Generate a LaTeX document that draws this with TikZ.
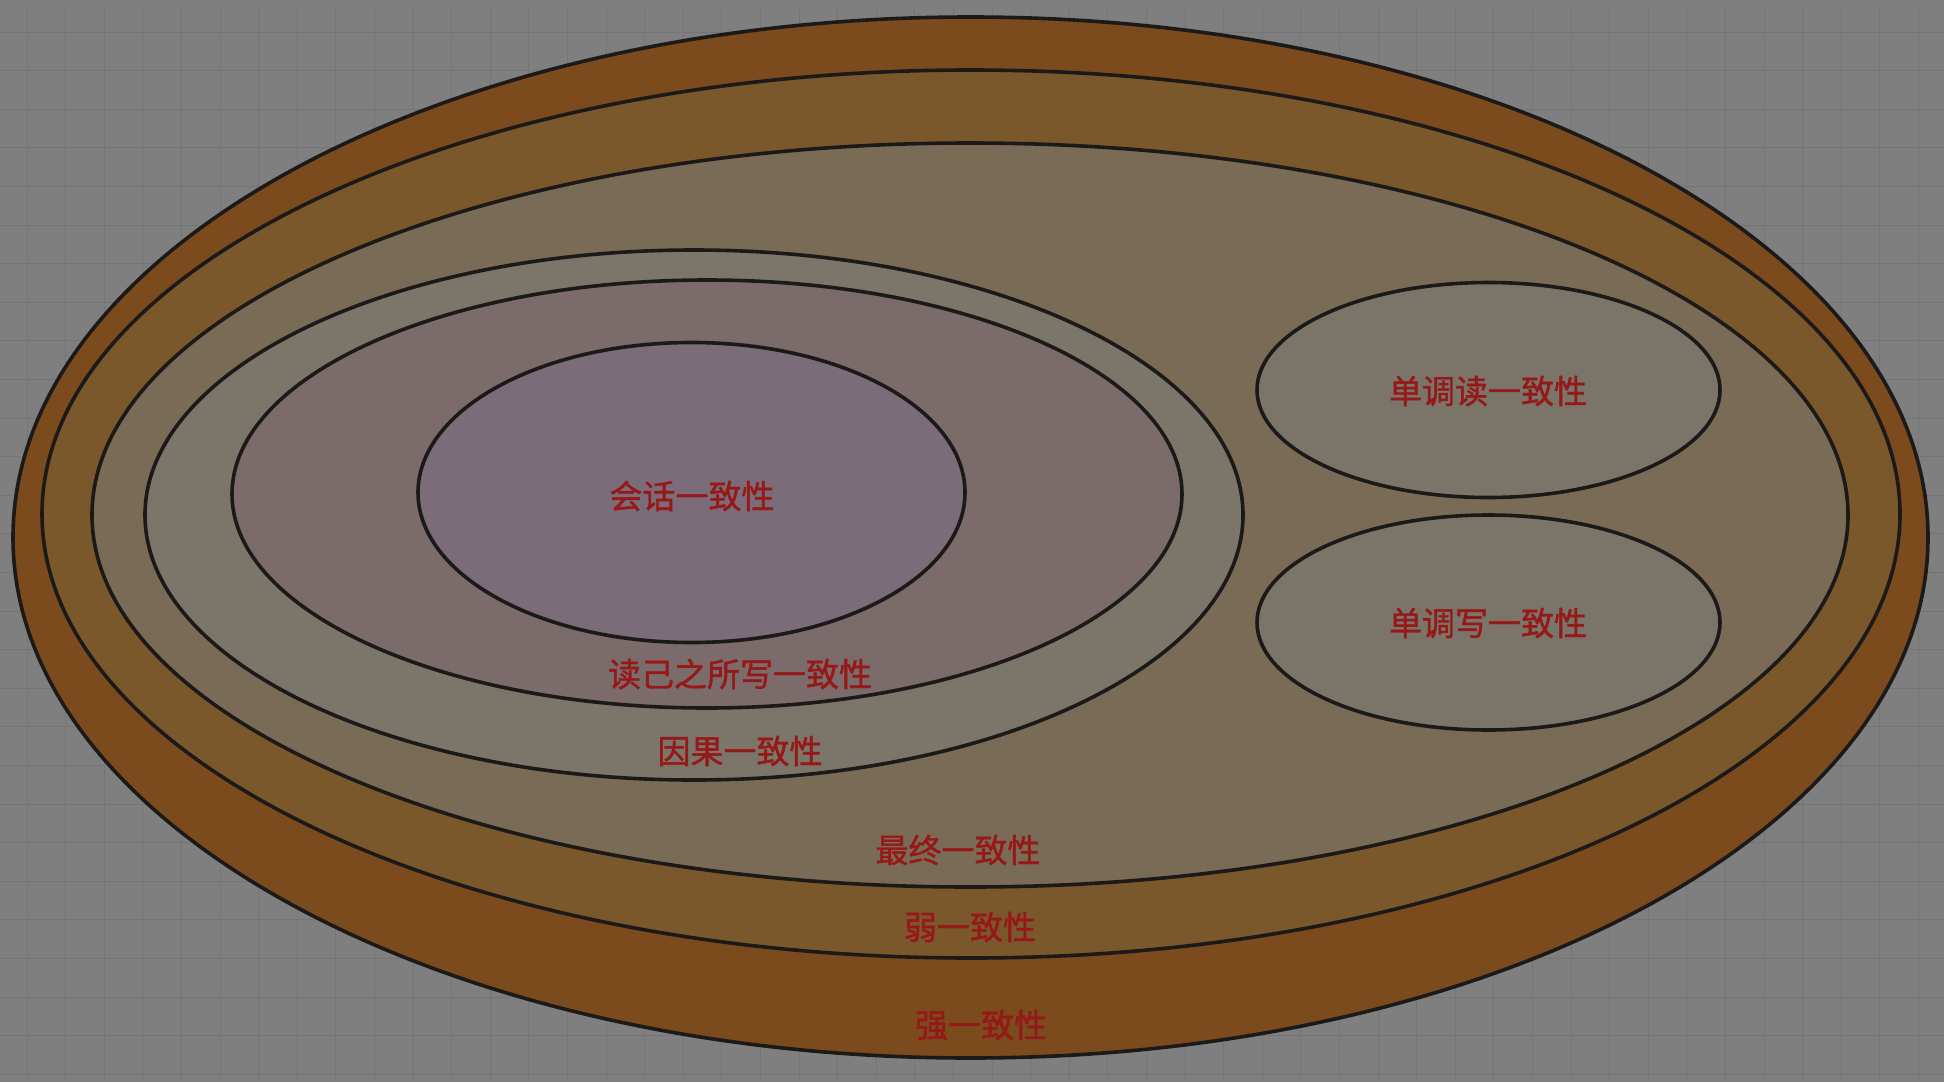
\documentclass[tikz,border=0pt]{standalone}
\usepackage{fontspec}
\newfontfamily\cjk[FakeBold=1.2]{Noto Sans CJK SC}

\tikzset{every picture/.style={line width=0.75pt}}

\begin{document}
\begin{tikzpicture}[x=0.5pt,y=0.5pt,yscale=-1,xscale=1,
  ring/.style={draw={rgb, 255:red, 28; green, 26; blue, 24 }, line width=1.8pt},
  lbl/.style={text={rgb, 255:red, 150; green, 24; blue, 24 }, font=\cjk\fontsize{16.5}{20}\selectfont, inner sep=0pt}]
	%set diagram left start at 0, and has height of 1082
	\path [fill={rgb, 255:red, 127; green, 127; blue, 127 }] (0,0) rectangle (1944,1082);
	\useasboundingbox (0,0) rectangle (1944,1082);

	%Grid lines
	\foreach \gx in {0,...,49} {
		\draw [color={rgb, 255:red, 117; green, 117; blue, 117 }, line width=0.5pt] (27+38.6*\gx,8) -- (27+38.6*\gx,1082) ;
	}
	\foreach \gy in {0,...,27} {
		\draw [color={rgb, 255:red, 117; green, 117; blue, 117 }, line width=0.5pt] (0,32+38.6*\gy) -- (1944,32+38.6*\gy) ;
	}

	%Shape: Ellipse (strong)
	\draw [ring, fill={rgb, 255:red, 123; green, 75; blue, 29 }] (970.5,537.5) ellipse (957.5 and 520.5) ;
	%Shape: Ellipse (weak)
	\draw [ring, fill={rgb, 255:red, 123; green, 88; blue, 44 }] (971,514) ellipse (929 and 444) ;
	%Shape: Ellipse (eventual)
	\draw [ring, fill={rgb, 255:red, 122; green, 107; blue, 86 }] (970,515) ellipse (878 and 372) ;
	%Shape: Ellipse (causal)
	\draw [ring, fill={rgb, 255:red, 123; green, 117; blue, 106 }] (694,515) ellipse (549 and 265) ;
	%Shape: Ellipse (read your writes)
	\draw [ring, fill={rgb, 255:red, 124; green, 107; blue, 107 }] (707,494) ellipse (475 and 214) ;
	%Shape: Ellipse (session)
	\draw [ring, fill={rgb, 255:red, 123; green, 108; blue, 121 }] (691.5,492.5) ellipse (273.5 and 150) ;
	%Shape: Ellipse (monotonic read)
	\draw [ring, fill={rgb, 255:red, 123; green, 117; blue, 105 }] (1488.5,390) ellipse (231.5 and 107.5) ;
	%Shape: Ellipse (monotonic write)
	\draw [ring, fill={rgb, 255:red, 123; green, 117; blue, 105 }] (1488.5,622.5) ellipse (231.5 and 107.5) ;

	% Text Node
	\draw (692,496) node [lbl] (session) {会话一致性};
	% Text Node
	\draw (740,674) node [lbl] (ryw) {读己之所写一致性};
	% Text Node
	\draw (740,751) node [lbl] (causal) {因果一致性};
	% Text Node
	\draw (958,850) node [lbl] (eventual) {最终一致性};
	% Text Node
	\draw (970,927) node [lbl] (weak) {弱一致性};
	% Text Node
	\draw (981,1025) node [lbl] (strong) {强一致性};
	% Text Node
	\draw (1488,391) node [lbl] (monoread) {单调读一致性};
	% Text Node
	\draw (1488,623) node [lbl] (monowrite) {单调写一致性};

\end{tikzpicture}
\end{document}
